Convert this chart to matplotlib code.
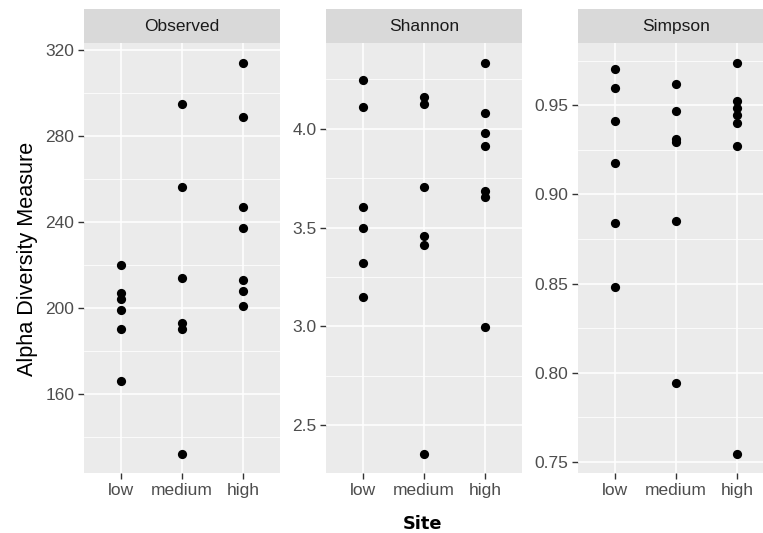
import matplotlib
matplotlib.use("Agg")
import matplotlib.pyplot as plt
import numpy as np

# ---- data ----
sites = ["low", "medium", "high"]
measures = ["Observed", "Shannon", "Simpson"]

observed_low = [220, 207, 204, 199, 190, 166]
observed_medium = [295, 256, 214, 193, 190, 132]
observed_high = [314, 289, 247, 237, 213, 208, 201]

shannon_low = [4.248, 4.110, 3.603, 3.498, 3.322, 3.150]
shannon_medium = [4.163, 4.127, 3.705, 3.457, 3.410, 2.355]
shannon_high = [4.334, 4.079, 3.979, 3.915, 3.683, 3.655, 2.998]

simpson_low = [0.9702, 0.9599, 0.9414, 0.9175, 0.8839, 0.8480]
simpson_medium = [0.9622, 0.9466, 0.9313, 0.9295, 0.8850, 0.7941]
simpson_high = [0.9738, 0.9525, 0.9486, 0.9448, 0.9403, 0.9273, 0.7546]

observed_ticks = [160, 200, 240, 280, 320]
observed_minor = [140, 180, 220, 260, 300]
shannon_ticks = [2.5, 3.0, 3.5, 4.0]
shannon_minor = [2.75, 3.25, 3.75, 4.25]
simpson_ticks = [0.75, 0.80, 0.85, 0.90, 0.95]
simpson_minor = [0.775, 0.825, 0.875, 0.925, 0.975]

observed_labels = ["160", "200", "240", "280", "320"]
shannon_labels = ["2.5", "3.0", "3.5", "4.0"]
simpson_labels = ["0.75", "0.80", "0.85", "0.90", "0.95"]

panels = [
    (measures[0], [observed_low, observed_medium, observed_high], observed_ticks, observed_labels, observed_minor),
    (measures[1], [shannon_low, shannon_medium, shannon_high], shannon_ticks, shannon_labels, shannon_minor),
    (measures[2], [simpson_low, simpson_medium, simpson_high], simpson_ticks, simpson_labels, simpson_minor),
]

W, H = 763, 533
DPI = 100
fig = plt.figure(figsize=(W / DPI, H / DPI), dpi=DPI)
fig.patch.set_facecolor("white")

panel_lefts = [84, 326, 578]
panel_w = 196
panel_top = 43.3
panel_bottom = 473.3
strip_top = 9.3

FONT = "Liberation Sans"
tick_fs = 12.5
tick_col = "#4D4D4D"

for (name, groups, ticks, labels, minor), left in zip(panels, panel_lefts):
    ax = fig.add_axes([left / W, (H - panel_bottom) / H, panel_w / W, (panel_bottom - panel_top) / H])
    ax.set_facecolor("#EBEBEB")
    for s in ax.spines.values():
        s.set_visible(False)
    allv = np.concatenate([np.asarray(g, float) for g in groups])
    lo, hi = allv.min(), allv.max()
    pad = 0.05 * (hi - lo)
    ax.set_ylim(lo - pad, hi + pad)
    ax.set_xlim(-0.6, len(sites) - 1 + 0.6)
    # grid
    for m in minor:
        ax.axhline(m, color="white", lw=0.55, zorder=0.5)
    for t in ticks:
        ax.axhline(t, color="white", lw=1.1, zorder=0.6)
    for i in range(len(sites)):
        ax.axvline(i, color="white", lw=1.1, zorder=0.6)
    for i, g in enumerate(groups):
        ax.scatter(np.full(len(g), i), g, s=44, color="black", linewidths=0, zorder=3)
    ax.set_yticks(ticks)
    ax.set_yticklabels(labels, fontsize=tick_fs, color=tick_col, family=FONT)
    ax.set_xticks(range(len(sites)))
    ax.set_xticklabels(sites, fontsize=tick_fs, color=tick_col, family=FONT)
    ax.tick_params(axis="both", length=4.6, width=1.0, color="#333333")
    ax.tick_params(axis="y", pad=2.4)
    ax.tick_params(axis="x", pad=2.2)
    ax.set_axisbelow(True)
    # strip
    sax = fig.add_axes([left / W, (H - panel_top) / H, panel_w / W, (panel_top - strip_top) / H])
    sax.set_facecolor("#D9D9D9")
    sax.set_xticks([])
    sax.set_yticks([])
    for s in sax.spines.values():
        s.set_visible(False)
    sax.text(0.5, 0.48, name, ha="center", va="center", fontsize=tick_fs, color="#1A1A1A",
             family=FONT, transform=sax.transAxes)

fig.text(27.5 / W, 1 - 259 / H, "Alpha Diversity Measure", rotation=90, ha="center", va="center",
         fontsize=15.6, family=FONT, color="black")
fig.text(423 / W, 1 - 524 / H, "Site", ha="center", va="center", fontsize=12.8, fontweight="bold",
         family="DejaVu Sans", color="black")

fig.savefig("out.png", dpi=DPI)
